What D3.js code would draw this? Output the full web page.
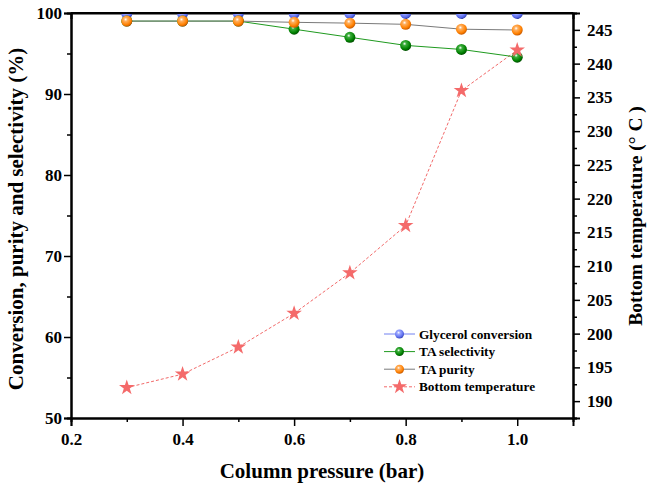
<!DOCTYPE html>
<html>
<head>
<meta charset="utf-8">
<script src="https://cdn.jsdelivr.net/npm/d3@7"></script>
<style>
  body { margin: 0; background: #fff; }
  text { font-family: "Liberation Serif", "Times New Roman", serif; font-weight: bold; fill: #000; }
</style>
</head>
<body>
<div id="chart"></div>
<script>
// data
var pressure = [0.3, 0.4, 0.5, 0.6, 0.7, 0.8, 0.9, 1.0];
var glycerolConv = [99.95, 99.95, 99.95, 99.95, 99.95, 99.95, 99.95, 99.95];
var taSelect = [99.0, 99.0, 99.0, 98.0, 97.0, 96.0, 95.5, 94.55];
var taPurity = [99.0, 99.0, 99.0, 98.85, 98.75, 98.6, 98.0, 97.9];
var bottomTemp = [192, 194, 198, 203, 209, 216, 236, 242];
var xTicks = [0.2, 0.4, 0.6, 0.8, 1.0];
var yTicks = [50, 60, 70, 80, 90, 100];
var y2Ticks = [190, 195, 200, 205, 210, 215, 220, 225, 230, 235, 240, 245];

var W = 654, H = 489;
var margin = {top: 13, right: 81, bottom: 71, left: 71},
    width = W - margin.left - margin.right,
    height = H - margin.top - margin.bottom;

var svg = d3.select("#chart").append("svg")
    .attr("width", W)
    .attr("height", H);

var defs = svg.append("defs");
function ball(id, light, base, dark) {
  var g = defs.append("radialGradient").attr("id", id)
      .attr("cx", "40%").attr("cy", "35%").attr("r", "65%");
  g.append("stop").attr("offset", "0%").attr("stop-color", "#fff");
  g.append("stop").attr("offset", "25%").attr("stop-color", light);
  g.append("stop").attr("offset", "75%").attr("stop-color", base);
  g.append("stop").attr("offset", "100%").attr("stop-color", dark);
}
ball("gBlue", "#a0abff", "#5e6ff0", "#3a48b8");
ball("gGreen", "#3cae3c", "#008000", "#005000");
ball("gOrange", "#ffb060", "#ff8000", "#c85a00");

defs.append("clipPath").attr("id", "plotClip")
  .append("rect").attr("width", width).attr("height", height);

var g = svg.append("g")
    .attr("transform", "translate(" + margin.left + "," + margin.top + ")");

var x = d3.scaleLinear().domain([0.2, 1.1]).range([0, width]);
var y = d3.scaleLinear().domain([50, 100]).range([height, 0]);
var y2 = d3.scaleLinear().domain([187.5, 247.5]).range([height, 0]);

// axes
g.append("g").attr("transform", "translate(0," + height + ")")
    .call(d3.axisBottom(x).tickValues(xTicks).tickSize(8).tickPadding(7).tickFormat(d3.format(".1f")));
g.append("g").attr("transform", "translate(0," + height + ")")
    .call(d3.axisBottom(x).tickValues(d3.range(0.3, 1.1, 0.2)).tickSize(4).tickFormat(""));

g.append("g")
    .call(d3.axisLeft(y).tickValues(yTicks).tickSize(7).tickPadding(2));
g.append("g")
    .call(d3.axisLeft(y).tickValues([55, 65, 75, 85, 95]).tickSize(4).tickFormat(""));

g.append("g").attr("transform", "translate(" + width + ",0)")
    .call(d3.axisRight(y2).tickValues(y2Ticks).tickSize(7).tickPadding(7));
g.append("g").attr("transform", "translate(" + width + ",0)")
    .call(d3.axisRight(y2).tickValues(d3.range(187.5, 247, 5)).tickSize(4).tickFormat(""));

// top frame with small inward ticks
g.append("g")
    .call(d3.axisTop(x).tickValues(d3.range(0.3, 1.05, 0.1)).tickSize(-6).tickFormat(""));

g.selectAll(".domain").attr("stroke", "#000").attr("stroke-width", 2);
g.selectAll(".tick line").attr("stroke", "#000").attr("stroke-width", 1.5);
g.selectAll(".tick text").style("font-size", "17px").style("font-family", "Liberation Serif").style("font-weight", "bold");

// axis titles
svg.append("text")
    .attr("x", margin.left + x(0.65))
    .attr("y", 478)
    .attr("text-anchor", "middle")
    .style("font-size", "21px")
    .text("Column pressure (bar)");
svg.append("text")
    .attr("transform", "translate(23,219)rotate(-90)")
    .attr("text-anchor", "middle")
    .style("font-size", "21px")
    .text("Conversion, purity and selectivity (%)");
svg.append("text")
    .attr("transform", "translate(642,216)rotate(-90)")
    .attr("text-anchor", "middle")
    .style("font-size", "19.5px")
    .text("Bottom temperature (° C )");

var plot = g.append("g").attr("clip-path", "url(#plotClip)");

var series = [
  {name: "Glycerol conversion", values: glycerolConv, line: "#7080f0", fill: "url(#gBlue)"},
  {name: "TA selectivity", values: taSelect, line: "#1f9a1f", fill: "url(#gGreen)"},
  {name: "TA purity", values: taPurity, line: "#7a7a7a", fill: "url(#gOrange)"}
];

var line = d3.line().x(function(d, i) { return x(pressure[i]); }).y(function(d) { return y(d); });
var line2 = d3.line().x(function(d, i) { return x(pressure[i]); }).y(function(d) { return y2(d); });

// temperature line
plot.append("path")
    .datum(bottomTemp)
    .attr("d", line2)
    .attr("fill", "none")
    .attr("stroke", "#f26a6a")
    .attr("stroke-width", 1)
    .attr("stroke-dasharray", "3,2");

series.forEach(function(s) {
  plot.append("path")
      .datum(s.values)
      .attr("d", line)
      .attr("fill", "none")
      .attr("stroke", s.line)
      .attr("stroke-width", 1);
});
series.forEach(function(s) {
  plot.selectAll(null)
      .data(s.values)
    .enter().append("circle")
      .attr("cx", function(d, i) { return x(pressure[i]); })
      .attr("cy", function(d) { return y(d); })
      .attr("r", 5.5)
      .attr("fill", s.fill);
});

var star = d3.symbol().type(d3.symbolStar).size(75);
plot.selectAll(".star")
    .data(bottomTemp)
  .enter().append("path")
    .attr("class", "star")
    .attr("transform", function(d, i) { return "translate(" + x(pressure[i]) + "," + y2(d) + ")"; })
    .attr("d", star)
    .attr("fill", "#f46a6a");

// top frame drawn over the clipped markers
g.append("line").attr("x1", 0).attr("x2", width).attr("y1", 0).attr("y2", 0)
    .attr("stroke", "#000").attr("stroke-width", 2);

// legend
var legend = g.append("g").attr("transform", "translate(313,321)");
var legendItems = [
  {name: "Glycerol conversion", line: "#7080f0", fill: "url(#gBlue)", dash: null},
  {name: "TA selectivity", line: "#1f9a1f", fill: "url(#gGreen)", dash: null},
  {name: "TA purity", line: "#7a7a7a", fill: "url(#gOrange)", dash: null},
  {name: "Bottom temperature", line: "#f26a6a", fill: null, dash: "3,2"}
];
var li = legend.selectAll("g").data(legendItems).enter().append("g")
    .attr("transform", function(d, i) { return "translate(0," + i * 17.6 + ")"; });
li.append("line")
    .attr("x1", 0).attr("x2", 31)
    .attr("stroke", function(d) { return d.line; })
    .attr("stroke-width", 1)
    .attr("stroke-dasharray", function(d) { return d.dash; });
li.filter(function(d) { return d.fill; }).append("circle")
    .attr("cx", 15.5).attr("r", 4.5).attr("fill", function(d) { return d.fill; });
li.filter(function(d) { return !d.fill; }).append("path")
    .attr("transform", "translate(15.5,0)")
    .attr("d", d3.symbol().type(d3.symbolStar).size(70))
    .attr("fill", "#f46a6a");
li.append("text")
    .attr("x", 35).attr("dy", "0.35em")
    .style("font-size", "13.3px")
    .text(function(d) { return d.name; });
</script>
</body>
</html>
